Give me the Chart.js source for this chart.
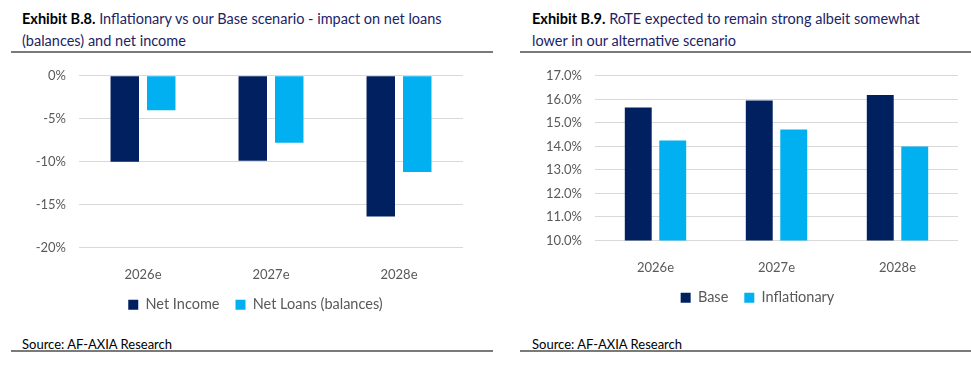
<!DOCTYPE html>
<html>
<head>
<meta charset="utf-8">
<script src="https://cdn.jsdelivr.net/npm/chart.js@4.4.1/dist/chart.umd.min.js"></script>
<style>
  html, body { margin:0; padding:0; background:#fff; width:971px; height:380px; overflow:hidden; font-family: Lato, "Open Sans", sans-serif; }
  .title { position:absolute; font-size:14.5px; line-height:22px; color:#1b2466; white-space:nowrap; }
  .title b { color:#000; }
  .rule { position:absolute; height:2px; background:#7a7a7a; }
  .src { position:absolute; font-size:13px; color:#000; white-space:nowrap; }
  .box { position:absolute; }
</style>
</head>
<body>
<div class="title" style="left:22px; top:8px;"><b>Exhibit B.8.</b> Inflationary vs our Base scenario - impact on net loans<br>(balances) and net income</div>
<div class="rule" style="left:11px; top:51px; width:482px;"></div>
<div class="title" style="left:532px; top:8px;"><b>Exhibit B.9.</b> RoTE expected to remain strong albeit somewhat<br>lower in our alternative scenario</div>
<div class="rule" style="left:520px; top:51px; width:451px;"></div>

<div class="box" style="left:0px; top:55px; width:485px; height:275px;"><canvas id="c1" width="485" height="275"></canvas></div>
<div class="box" style="left:485px; top:55px; width:486px; height:275px;"><canvas id="c2" width="486" height="275"></canvas></div>

<div class="src" style="left:22px; top:336px;">Source: AF-AXIA Research</div>
<div class="rule" style="left:11px; top:350px; width:482px;"></div>
<div class="src" style="left:532px; top:336px;">Source: AF-AXIA Research</div>
<div class="rule" style="left:520px; top:350px; width:451px;"></div>

<script>
const categories = ['2026e', '2027e', '2028e'];
const netIncome = [-10.0, -9.9, -16.4];
const netLoans = [-4.0, -7.8, -11.2];
const base = [15.65, 15.95, 16.18];
const inflationary = [14.25, 14.72, 13.99];
const leftTicks = [0, -5, -10, -15, -20];
const rightTicks = [10, 11, 12, 13, 14, 15, 16, 17];

const NAVY = '#002060';
const CYAN = '#00B0F0';
const GREY = '#595959';
const FONT = { family: 'Lato, "Open Sans", sans-serif', size: 13 };
const LFONT = { family: 'Lato, "Open Sans", sans-serif', size: 14.5 };

// shifts the legend horizontally so it is centred on a given x
const legendShift = {
  id: 'legendShift',
  afterLayout(chart, args, opts) {
    const lg = chart.legend;
    if (!lg || opts.center == null) return;
    const cur = (lg.left + lg.right) / 2;
    const d = opts.center - cur;
    lg.left += d; lg.right += d;
    if (lg.legendHitBoxes) lg.legendHitBoxes.forEach(h => { h.left += d; });
  }
};

function makeChart(id, labels, s1, s2, yOpts, layout, yWidth, legendCenter) {
  return new Chart(document.getElementById(id), {
    type: 'bar',
    data: {
      labels: labels,
      datasets: [
        { label: s1.label, data: s1.data, backgroundColor: NAVY, borderWidth: 0,
          categoryPercentage: 0.57, barPercentage: 0.78 },
        { label: s2.label, data: s2.data, backgroundColor: CYAN, borderWidth: 0,
          categoryPercentage: 0.57, barPercentage: 0.78 }
      ]
    },
    plugins: [legendShift],
    options: {
      responsive: false,
      animation: false,
      layout: { padding: layout },
      scales: {
        x: {
          grid: { display: false },
          border: { display: false },
          ticks: { color: GREY, font: FONT, padding: 12 },
          afterFit: s => { s.height = 34; }
        },
        y: Object.assign({
          grid: { color: '#d9d9d9', lineWidth: 1, drawTicks: false },
          border: { display: false },
          afterFit: s => { s.width = yWidth; }
        }, yOpts)
      },
      plugins: {
        legendShift: { center: legendCenter },
        legend: {
          position: 'bottom',
          labels: { color: GREY, font: LFONT, boxWidth: 10, boxHeight: 10, padding: 16 }
        },
        tooltip: { enabled: false }
      }
    }
  });
}

makeChart('c1', categories,
  { label: 'Net Income', data: netIncome },
  { label: 'Net Loans (balances)', data: netLoans },
  {
    min: Math.min(...leftTicks), max: Math.max(...leftTicks),
    afterBuildTicks: s => { s.ticks = leftTicks.map(v => ({ value: v })); },
    ticks: { color: GREY, font: FONT, padding: 13, callback: v => v + '%' }
  },
  { left: 0, right: 22, top: 20, bottom: 8 }, 79, 255.5);

makeChart('c2', categories,
  { label: 'Base', data: base },
  { label: 'Inflationary', data: inflationary },
  {
    min: Math.min(...rightTicks), max: Math.max(...rightTicks),
    afterBuildTicks: s => { s.ticks = rightTicks.map(v => ({ value: v })); },
    ticks: { color: GREY, font: FONT, padding: 13, callback: v => Number(v).toFixed(1) + '%' }
  },
  { left: 0, right: 13, top: 20, bottom: 15 }, 110, 272.5);
</script>
</body>
</html>
